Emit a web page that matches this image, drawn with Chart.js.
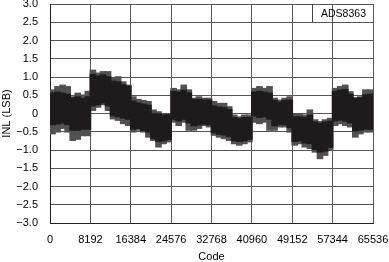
<!DOCTYPE html>
<html>
<head>
<meta charset="utf-8">
<script src="https://cdn.jsdelivr.net/npm/chart.js@4.4.0/dist/chart.umd.min.js"></script>
<style>
    html, body { margin: 0; padding: 0; background: #fff; }
</style>
</head>
<body>
<canvas id="inl-chart" width="389" height="262"></canvas>
<script>
// INL por tramos de 1024 códigos
const binSize = 1024;
// extremos (picos dispersos)
const inlUpper = [
    0.64, 0.73, 0.77, 0.73, 0.45, 0.55, 0.50, 0.60,
    1.18, 1.10, 1.14, 1.14, 0.96, 1.00, 0.86, 0.77,
    0.45, 0.38, 0.35, 0.32, 0.09, 0.04, 0.00, 0.00,
    0.68, 0.64, 0.77, 0.64, 0.41, 0.45, 0.41, 0.41,
    0.32, 0.27, 0.27, 0.18, -0.05, -0.10, -0.05, -0.05,
    0.68, 0.73, 0.68, 0.73, 0.41, 0.36, 0.41, 0.45,
    0.00, 0.00, -0.05, 0.09, -0.18, -0.23, -0.18, -0.14,
    0.68, 0.73, 0.77, 0.59, 0.41, 0.45, 0.64, 0.64
];
const inlLower = [
    -0.55, -0.50, -0.40, -0.50, -0.73, -0.70, -0.60, -0.60,
    0.09, 0.18, 0.25, 0.09, -0.14, -0.18, -0.27, -0.32,
    -0.50, -0.45, -0.50, -0.64, -0.73, -0.91, -0.82, -0.77,
    -0.23, -0.32, -0.23, -0.45, -0.45, -0.40, -0.32, -0.36,
    -0.59, -0.64, -0.68, -0.73, -0.82, -0.86, -0.82, -0.77,
    -0.23, -0.27, -0.23, -0.45, -0.45, -0.36, -0.36, -0.50,
    -0.86, -0.82, -0.91, -0.95, -1.05, -1.23, -1.14, -1.00,
    -0.32, -0.27, -0.32, -0.36, -0.64, -0.55, -0.50, -0.50
];
// núcleo denso de la banda
const coreUpper = [
    0.55, 0.58, 0.55, 0.52, 0.42, 0.45, 0.40, 0.45,
    1.06, 1.02, 1.05, 1.00, 0.88, 0.86, 0.78, 0.74,
    0.33, 0.28, 0.25, 0.22, 0.00, -0.02, -0.05, -0.04,
    0.60, 0.58, 0.63, 0.56, 0.38, 0.38, 0.36, 0.36,
    0.20, 0.17, 0.15, 0.10, -0.12, -0.15, -0.12, -0.12,
    0.58, 0.60, 0.58, 0.55, 0.35, 0.30, 0.35, 0.36,
    -0.10, -0.10, -0.12, -0.05, -0.24, -0.28, -0.24, -0.22,
    0.60, 0.63, 0.65, 0.52, 0.42, 0.42, 0.50, 0.52
];
const coreLower = [
    -0.30, -0.28, -0.25, -0.30, -0.45, -0.45, -0.42, -0.42,
    0.22, 0.25, 0.30, 0.22, -0.05, -0.08, -0.12, -0.15,
    -0.42, -0.40, -0.46, -0.50, -0.68, -0.76, -0.74, -0.70,
    -0.15, -0.20, -0.15, -0.25, -0.33, -0.30, -0.28, -0.30,
    -0.52, -0.56, -0.58, -0.62, -0.74, -0.76, -0.74, -0.70,
    -0.06, -0.10, -0.08, -0.15, -0.33, -0.30, -0.30, -0.38,
    -0.76, -0.74, -0.80, -0.82, -0.98, -1.05, -1.02, -0.92,
    -0.19, -0.17, -0.20, -0.25, -0.47, -0.45, -0.42, -0.42
];
const codeTicks = [0, 8192, 16384, 24576, 32768, 40960, 49152, 57344, 65536];
const deviceName = 'ADS8363';

const FONT = '"Liberation Sans", Arial, sans-serif';

// Barras flotantes: centro del tramo, [min, max]
const toBars = (lo, hi) => hi.map((v, i) => ({ x: i * binSize + binSize / 2, y: [lo[i], v] }));
const peakData = toBars(inlLower, inlUpper);
const coreData = toBars(coreLower, coreUpper);

// Recuadro con el nombre del dispositivo en la esquina superior derecha
const deviceLabel = {
    id: 'deviceLabel',
    afterDraw(chart) {
        const { ctx, chartArea } = chart;
        const w = 61, h = 18;
        const x = chartArea.right - w;
        const y = chartArea.top;
        ctx.save();
        ctx.strokeStyle = '#444';
        ctx.lineWidth = 1;
        ctx.beginPath();
        ctx.moveTo(Math.round(x) + 0.5, y);
        ctx.lineTo(Math.round(x) + 0.5, y + h);
        ctx.stroke();
        ctx.fillStyle = '#000';
        ctx.font = '10.5px ' + FONT;
        ctx.textAlign = 'center';
        ctx.textBaseline = 'middle';
        ctx.fillText(deviceName, x + w / 2 + 1, y + h / 2 + 1);
        ctx.restore();
    }
};

const ctx = document.getElementById('inl-chart').getContext('2d');
new Chart(ctx, {
    type: 'bar',
    data: {
        datasets: [
            {
                label: 'INL núcleo',
                data: coreData,
                backgroundColor: '#1e1b1c',
                borderWidth: 0,
                inflateAmount: 0.8,
                grouped: false,
                order: 1,
                barPercentage: 1,
                categoryPercentage: 1
            },
            {
                label: 'INL picos',
                data: peakData,
                backgroundColor: '#525051',
                borderWidth: 0,
                inflateAmount: 0.8,
                grouped: false,
                order: 2,
                barPercentage: 1,
                categoryPercentage: 1
            }
        ]
    },
    options: {
        responsive: false,
        animation: false,
        layout: { padding: { top: 4, right: 16, left: 0, bottom: 0 } },
        plugins: {
            legend: { display: false },
            tooltip: { enabled: false }
        },
        scales: {
            x: {
                type: 'linear',
                min: 0,
                max: 65536,
                offset: false,
                z: 1,
                afterBuildTicks: (scale) => {
                    scale.ticks = codeTicks.map(v => ({ value: v }));
                },
                afterFit: (scale) => { scale.height = 39; },
                // marcas invisibles: sólo separan las etiquetas del eje
                grid: { color: '#555', lineWidth: 1, drawTicks: true, tickLength: 10, tickColor: 'rgba(0,0,0,0)', offset: false },
                border: { display: true, color: '#222' },
                ticks: {
                    padding: 0,
                    maxRotation: 0,
                    autoSkip: false,
                    color: '#000',
                    font: { family: FONT, size: 11 },
                    callback: v => String(v)
                },
                title: {
                    display: true,
                    text: 'Code',
                    color: '#000',
                    font: { family: FONT, size: 11, lineHeight: 1 },
                    padding: { top: 0, bottom: 0 }
                }
            },
            y: {
                min: -3,
                max: 3,
                z: 1,
                afterFit: (scale) => { scale.width = 50; },
                grid: { color: '#555', lineWidth: 1, drawTicks: true, tickLength: 12, tickColor: 'rgba(0,0,0,0)' },
                border: { display: true, color: '#222' },
                ticks: {
                    stepSize: 0.5,
                    padding: 0,
                    color: '#000',
                    font: { family: FONT, size: 11, lineHeight: 0.6 },
                    callback: v => v === 0 ? '0' : (v < 0 ? '\u2212' : '') + Math.abs(v).toFixed(1)
                },
                title: {
                    display: true,
                    text: 'INL (LSB)',
                    color: '#000',
                    font: { family: FONT, size: 11, lineHeight: 1.2 },
                    padding: { top: 0, bottom: 0 }
                }
            }
        }
    },
    plugins: [deviceLabel]
});
</script>
</body>
</html>
